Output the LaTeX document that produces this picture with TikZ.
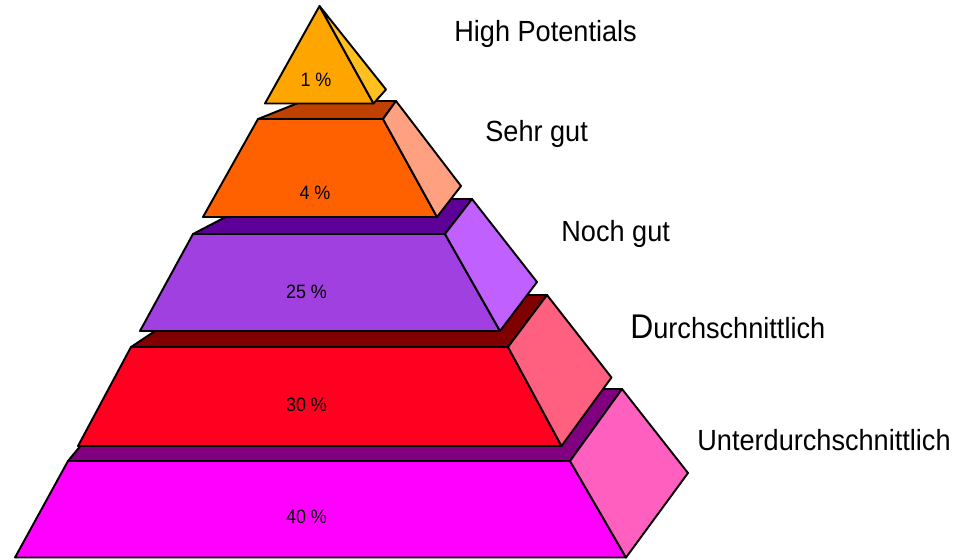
\documentclass[tikz,border=0pt]{standalone}
\usepackage{fontspec}
\setmainfont{Liberation Sans}[FakeStretch=0.93]
\usepackage{tikz}
\definecolor{PyAmber}{HTML}{FFA500}
\definecolor{PyAmberSide}{HTML}{FFC020}
\definecolor{PyOrange}{HTML}{FF6000}
\definecolor{PyOrangeTop}{HTML}{C04000}
\definecolor{PyOrangeSide}{HTML}{FFA080}
\definecolor{PyViolet}{HTML}{A040E0}
\definecolor{PyVioletTop}{HTML}{5C0098}
\definecolor{PyVioletSide}{HTML}{C060FF}
\definecolor{PyRed}{HTML}{FF0020}
\definecolor{PyRedTop}{HTML}{800000}
\definecolor{PyRedSide}{HTML}{FF6080}
\definecolor{PyMagenta}{HTML}{FF00FF}
\definecolor{PyMagentaTop}{HTML}{800080}
\definecolor{PyMagentaSide}{HTML}{FF60C0}

\begin{document}
\begin{tikzpicture}[
    x=0.02cm,y=-0.02cm,
    face/.style={draw=black, line width=1.1pt, line join=round},
    share/.style={font=\fontsize{11pt}{13pt}\selectfont, inner sep=0pt},
    level/.style={font=\fontsize{16.6pt}{19pt}\selectfont, anchor=base west, inner sep=0pt}
  ]
    \useasboundingbox (0,0) rectangle (957,559);

    % Unterdurchschnittlich
    \filldraw[face, fill=PyMagentaTop] (68,461) -- (570,461) -- (622,389) -- (127,389) -- cycle;
    \filldraw[face, fill=PyMagenta] (68,461) -- (570,461) -- (626,557.5) -- (15,557.5) -- cycle;
    \filldraw[face, fill=PyMagentaSide] (570,461) -- (622,389) -- (688,473) -- (626,557.5) -- cycle;

    % Durchschnittlich
    \filldraw[face, fill=PyRedTop] (131,347) -- (508,347) -- (547,295) -- (209,295) -- cycle;
    \filldraw[face, fill=PyRed] (131,347) -- (508,347) -- (561.5,446) -- (78,446) -- cycle;
    \filldraw[face, fill=PyRedSide] (508,347) -- (547,295) -- (611.5,377.5) -- (561.5,446) -- cycle;

    % Noch gut
    \filldraw[face, fill=PyVioletTop] (193,234) -- (445,234) -- (472,199) -- (260,199) -- cycle;
    \filldraw[face, fill=PyViolet] (193,234) -- (445,234) -- (500,331) -- (140,331) -- cycle;
    \filldraw[face, fill=PyVioletSide] (445,234) -- (472,199) -- (537,282) -- (500,331) -- cycle;

    % Sehr gut
    \filldraw[face, fill=PyOrangeTop] (258,119) -- (383,119) -- (396,101) -- (303,101) -- cycle;
    \filldraw[face, fill=PyOrange] (258,119) -- (383,119) -- (437,217) -- (203,217) -- cycle;
    \filldraw[face, fill=PyOrangeSide] (383,119) -- (396,101) -- (461,186) -- (437,217) -- cycle;

    % High Potentials
    \filldraw[face, fill=PyAmber] (319.5,6) -- (373.5,103.5) -- (265,103.5) -- cycle;
    \filldraw[face, fill=PyAmberSide] (319.5,6) -- (386,89.5) -- (373.5,103.5) -- cycle;

    % shares
    \node[share] (s1) at (316,80) {1 \%};
    \node[share] (s4) at (315,193) {4 \%};
    \node[share] (s25) at (306.5,292) {25 \%};
    \node[share] (s30) at (306.5,405) {30 \%};
    \node[share] (s40) at (306.5,517) {40 \%};

    % level names
    \node[level] (hp) at (454,41) {High Potentials};
    \node[level] (sg) at (485,141) {Sehr gut};
    \node[level] (ng) at (561,241) {Noch gut};
    \node[level] (ds) at (630,338) {{\fontsize{19.5pt}{22pt}\selectfont D}urchschnittlich};
    \node[level] (ud) at (697,450) {Unterdurchschnittlich};
\end{tikzpicture}
\end{document}
